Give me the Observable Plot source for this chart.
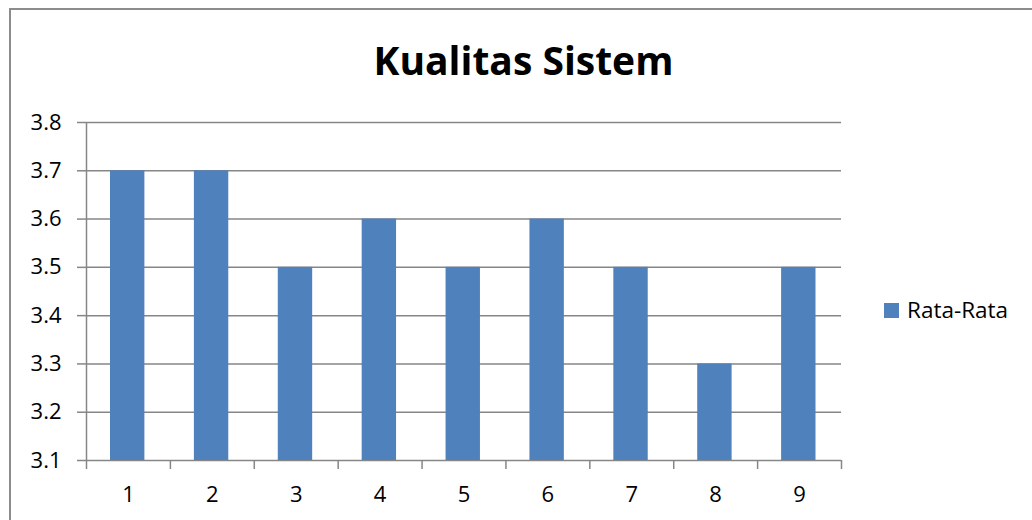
<!DOCTYPE html>
<html>
<head>
<meta charset="utf-8">
<script src="https://cdn.jsdelivr.net/npm/d3@7"></script>
<script src="https://cdn.jsdelivr.net/npm/@observablehq/plot@0.6"></script>
<style>
  html, body { margin: 0; padding: 0; background: #fff; }
  #wrap { position: relative; width: 1032px; height: 520px; overflow: hidden; font-family: "Open Sans", Lato, sans-serif; }
  #frame { position: absolute; left: 9px; top: 8px; width: 1100px; height: 600px; border: 2px solid #8c8c8c; box-sizing: border-box; }
  #title { position: relative; height: 100px; width: 1047px; text-align: center; font-weight: bold; font-size: 39px; line-height: 53px; padding-top: 33px; box-sizing: border-box; color: #000; white-space: nowrap; }
  #chart { position: relative; }
  #legend { position: absolute; left: 884px; top: 295px; display: flex; align-items: center; font-size: 22.5px; line-height: 30px; color: #000; }
  #legend .sw { width: 15px; height: 15px; background: #4F81BD; margin-right: 8px; }
</style>
</head>
<body>
<div id="wrap">
  <div id="frame"></div>
  <div id="title">Kualitas Sistem</div>
  <div id="chart"></div>
  <div id="legend"><div class="sw"></div><span>Rata-Rata</span></div>
</div>
<script>
const categories = [1, 2, 3, 4, 5, 6, 7, 8, 9];
const values = [3.7, 3.7, 3.5, 3.6, 3.5, 3.6, 3.5, 3.3, 3.5];
const yTicks = [3.1, 3.2, 3.3, 3.4, 3.5, 3.6, 3.7, 3.8];
const seriesName = "Rata-Rata";
const barColor = "#4F81BD";
const gridColor = "#868686";

const data = categories.map((k, i) => ({k, v: values[i]}));
const boundaries = categories.map(k => k - 0.5).concat([categories[categories.length - 1] + 0.5]);

const chart = Plot.plot({
  width: 1032,
  height: 420,
  marginLeft: 86,
  marginRight: 191,
  marginTop: 22,
  marginBottom: 60,
  style: {fontFamily: "'Open Sans', Lato, sans-serif", fontSize: "22px", color: "#000", background: "transparent", overflow: "visible"},
  x: {type: "linear", domain: [0.5, 9.5]},
  y: {domain: [3.1, 3.8]},
  marks: [
    Plot.ruleY(yTicks, {stroke: gridColor, strokeWidth: 1.5}),
    Plot.ruleX([0.5], {y1: 3.1, y2: 3.8, stroke: gridColor, strokeWidth: 1.5}),
    Plot.rectY(data, {x1: d => d.k - 0.5, x2: d => d.k + 0.5, y1: 3.1, y2: "v", insetLeft: 24, insetRight: 25.5, fill: barColor}),
    Plot.axisY({ticks: yTicks, tickFormat: d3.format(".1f"), tickSize: 9, tickPadding: 16, stroke: gridColor, strokeWidth: 1.5, label: null}),
    Plot.axisX({ticks: boundaries, tickSize: 9, tickFormat: () => "", stroke: gridColor, strokeWidth: 1.5, label: null}),
    Plot.axisX({ticks: categories, tickSize: 0, tickPadding: 26, tickFormat: d3.format("d"), label: null})
  ]
});
document.getElementById("chart").appendChild(chart);
document.getElementById("legend").querySelector("span").textContent = seriesName;
</script>
</body>
</html>
